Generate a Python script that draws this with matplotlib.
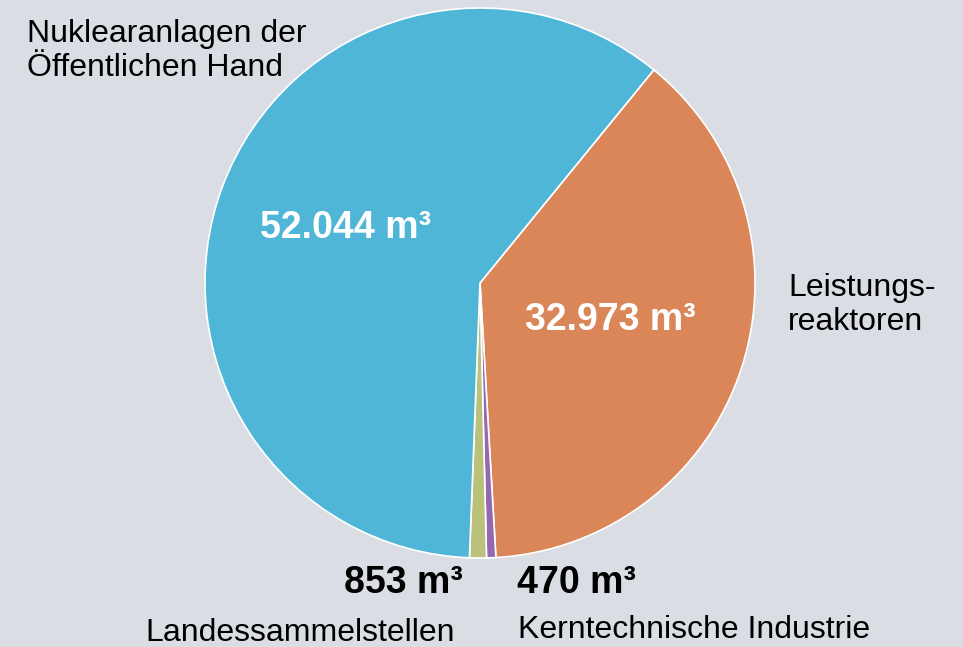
import matplotlib.pyplot as plt

plt.rcParams['font.family'] = ['Liberation Sans', 'DejaVu Sans']

# data
labels = ['Leistungs-\nreaktoren', 'Kerntechnische Industrie',
          'Landessammelstellen', 'Nuklearanlagen der\nÖffentlichen Hand']
volumes = [32973, 470, 853, 52044]
value_texts = ['32.973 m³', '470 m³', '853 m³', '52.044 m³']
colors = ['#DA8659', '#9467B0', '#B9C17B', '#50B6D8']

bg = '#DADEE4'
W, H = 963, 647
cx, cy, R = 480, 283, 275


def px(x, y):
    # pixel position -> data coords (pie radius = 1)
    return (x - cx) / R, (cy - y) / R


fig = plt.figure(figsize=(W / 100, H / 100), dpi=100, facecolor=bg)
ax = fig.add_axes([0, 0, 1, 1])
ax.set_facecolor(bg)

ax.pie(volumes, colors=colors, startangle=50.8, counterclock=False,
       radius=1, wedgeprops=dict(edgecolor='white', linewidth=1.2))
ax.set_xlim(px(0, 0)[0], px(W, 0)[0])
ax.set_ylim(px(0, H)[1], px(0, 0)[1])
ax.set_aspect('auto')
ax.axis('off')

fs = 23
vfs = 27
# values
ax.text(*px(345, 228), value_texts[3], color='white', fontsize=vfs, fontweight='bold', ha='center', va='center')
ax.text(*px(610, 320), value_texts[0], color='white', fontsize=vfs, fontweight='bold', ha='center', va='center')
ax.text(*px(463, 583), value_texts[2], color='black', fontsize=vfs, fontweight='bold', ha='right', va='center')
ax.text(*px(517, 583), value_texts[1], color='black', fontsize=vfs, fontweight='bold', ha='left', va='center')

# category labels
ax.text(*px(27, 51), labels[3], fontsize=fs, ha='left', va='center', linespacing=1.2)
ax.text(*px(788, 305), labels[0], fontsize=fs, ha='left', va='center', linespacing=1.2)
ax.text(*px(455, 633), labels[2], fontsize=fs, ha='right', va='center')
ax.text(*px(518, 630), labels[1], fontsize=fs, ha='left', va='center')

fig.savefig('out.png', dpi=100, facecolor=bg)
